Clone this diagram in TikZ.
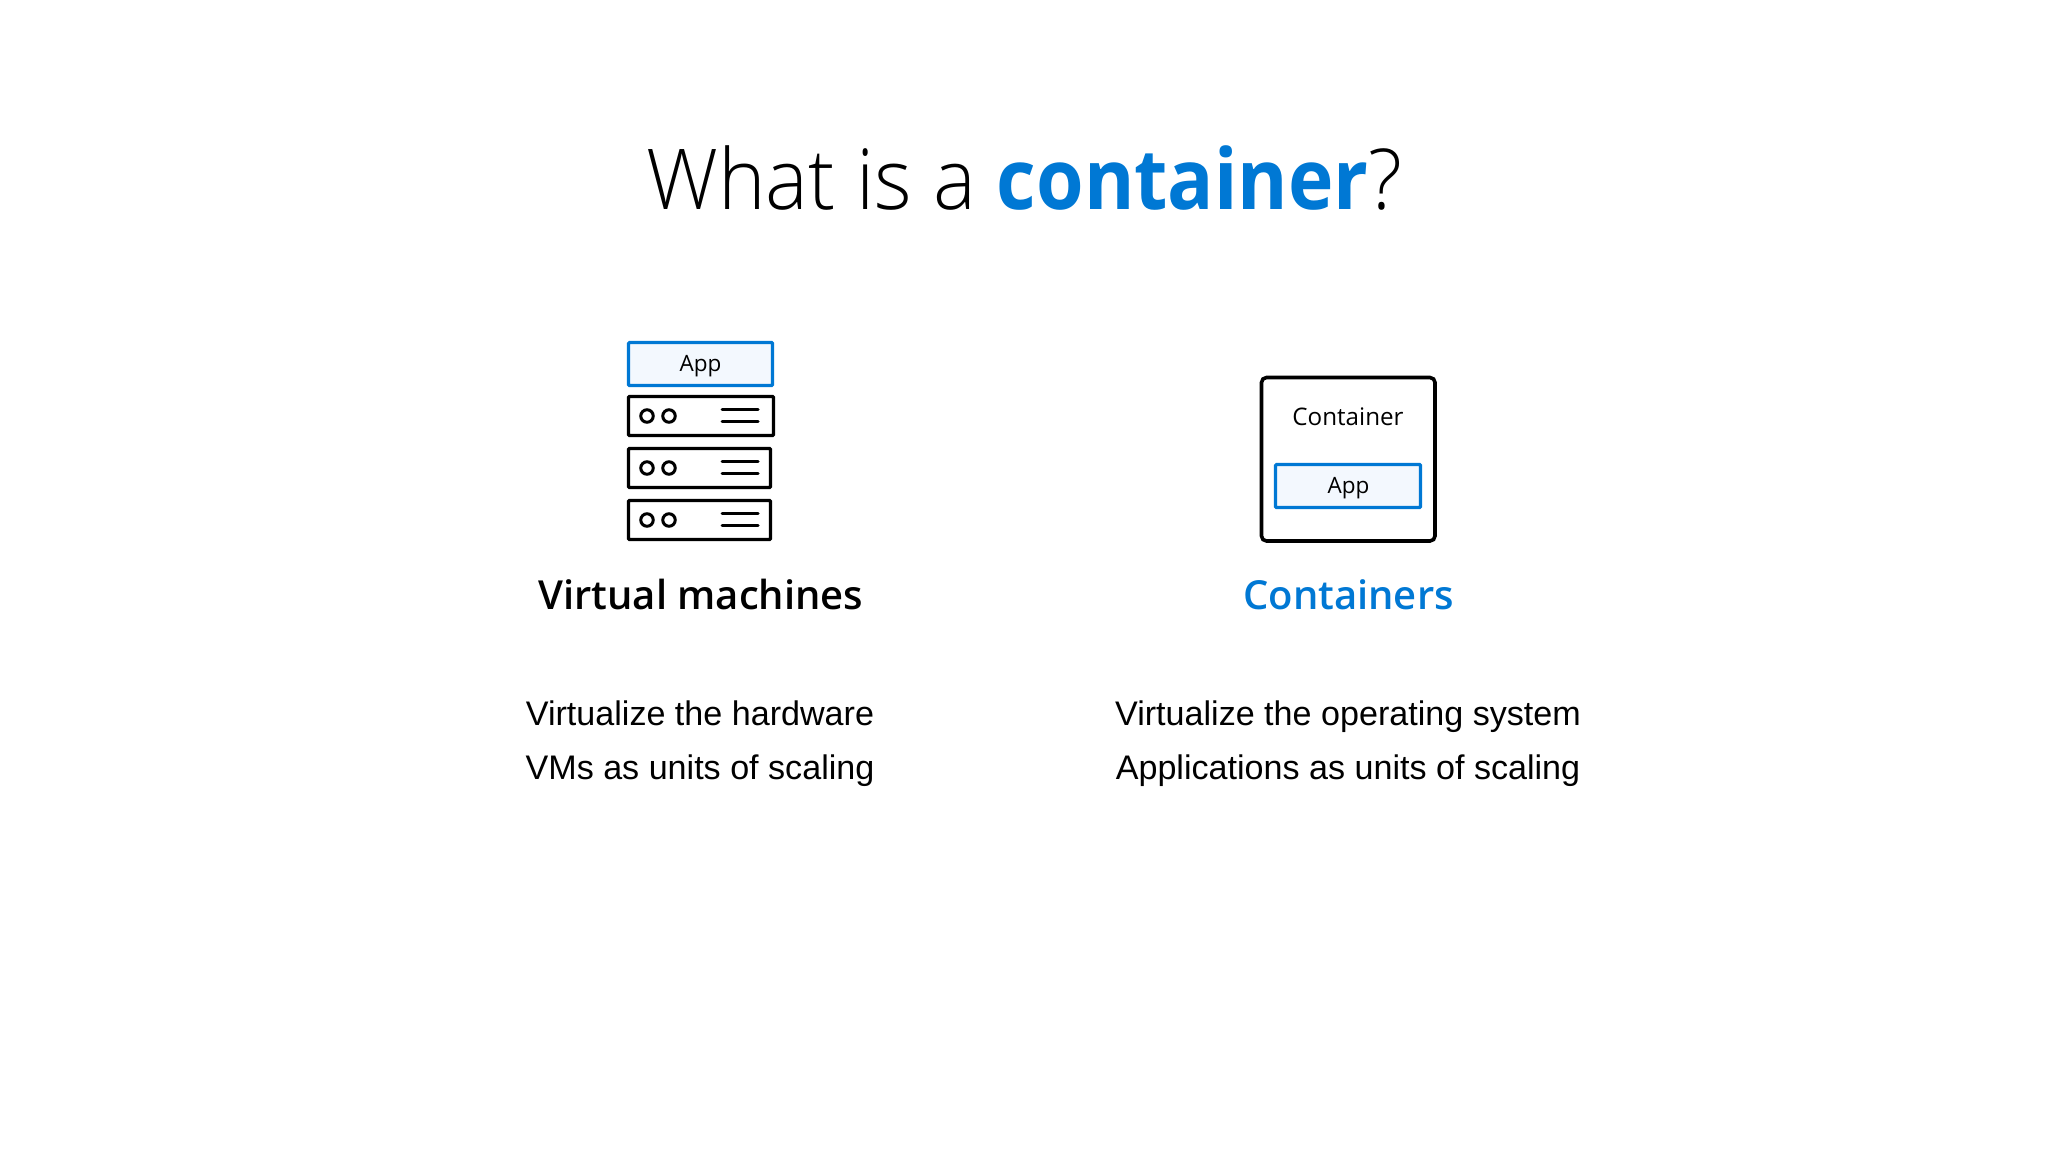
\documentclass[tikz,border=0pt]{standalone}
\usepackage{fontspec}
\setmainfont{Liberation Sans}
\newfontfamily\seg{Open Sans}
\newfontfamily\seglight[FakeStretch=0.96]{Open Sans Light}
\newfontfamily\segbold[FakeStretch=0.915]{Open Sans Bold}
\newfontfamily\segsemi{Open Sans Semibold}
\definecolor{azure}{HTML}{0078D4}
\definecolor{appfill}{HTML}{F3F8FE}
\tikzset{
  txt/.style={inner sep=0pt,outer sep=0pt,anchor=base,text=black},
  appbox/.style={draw=azure,fill=appfill,line width=3.2pt,rounded corners=1pt,inner sep=0pt,outer sep=0pt},
  srvbox/.style={draw=black,line width=3.4pt,rounded corners=1pt,fill=white},
  hole/.style={draw=black,line width=3pt,circle,minimum size=12.5pt,inner sep=0pt,outer sep=0pt},
  bar/.style={draw=black,line width=3pt,line cap=round},
  apptxt/.style={txt,font=\seg\fontsize{22.5}{28}\selectfont},
  cttxt/.style={txt,font=\seg\fontsize{24.2}{28}\selectfont},
  body/.style={txt,font=\fontsize{34.1}{42}\selectfont},
  head/.style={txt,font=\segsemi\fontsize{40}{46}\selectfont}
}
\begin{document}
\begin{tikzpicture}[x=1pt,y=-1pt]
\useasboundingbox (0,0) rectangle (2048,1152);
\fill[white] (0,0) rectangle (2048,1152);
% title
\node[txt] (title) at (1024.5,209.5) {\fontsize{84}{96}\selectfont\seglight What is a {\segbold\color{azure}container}?};
% VM stack
\draw[appbox] (628.5,342.5) rectangle (772.5,385.5);
\node[apptxt] (vmapp) at (700.5,371) {App};
\foreach \a/\r in {396.5/773.5,448.5/770.5,500.5/770.5}{
  \draw[srvbox] (628.5,\a) rectangle (\r,\a+39);
  \node[hole] at (647,\a+19.5) {};
  \node[hole] at (669,\a+19.5) {};
  \draw[bar] (722,\a+13) -- (758,\a+13);
  \draw[bar] (722,\a+25) -- (758,\a+25);
}
\node[head] (vm) at (701,609) {Virtual machines};
\node[body] (v1) at (700,725) {Virtualize the hardware};
\node[body] (v2) at (700,779) {VMs as units of scaling};
% container
\draw[draw=black,line width=3.6pt,rounded corners=5pt] (1261.5,377.5) rectangle (1435,541);
\node[cttxt] (ct) at (1348,425) {Container};
\draw[appbox] (1275.5,464.5) rectangle (1420.5,507.5);
\node[apptxt] (capp) at (1348.5,493) {App};
\node[head,text=azure] (c) at (1348.5,609) {Containers};
\node[body] (c1) at (1348,725) {Virtualize the operating system};
\node[body] (c2) at (1348,779) {Applications as units of scaling};
\end{tikzpicture}
\end{document}
